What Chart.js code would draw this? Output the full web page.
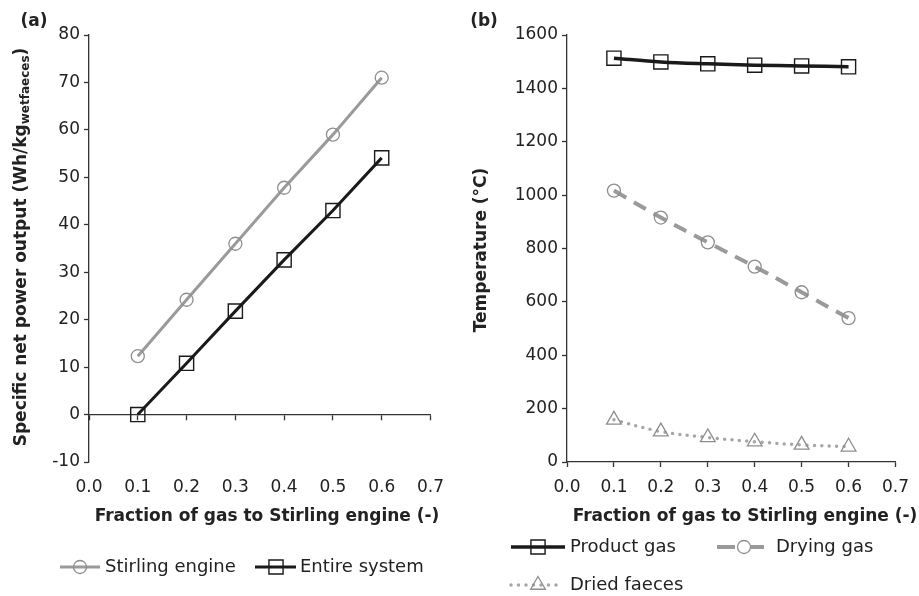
<!DOCTYPE html>
<html>
<head>
<meta charset="utf-8">
<script src="https://cdn.jsdelivr.net/npm/chart.js@4.4.1/dist/chart.umd.min.js"></script>
<style>
  html, body { margin: 0; padding: 0; background: #fff; }
  #wrap { position: relative; width: 919px; height: 596px; }
  #chartA { position: absolute; left: 0; top: 0; }
  #chartB { position: absolute; left: 459px; top: 0; }
</style>
</head>
<body>
<div id="wrap">
  <canvas id="chartA" width="459" height="596"></canvas>
  <canvas id="chartB" width="460" height="596"></canvas>
</div>
<script>
// values
const fractions = [0.1, 0.2, 0.3, 0.4, 0.5, 0.6];
const stirlingEngine = [12.3, 24.2, 36.0, 47.8, 59.0, 71.0];
const entireSystem = [0.0, 10.8, 21.8, 32.6, 43.0, 54.1];
const productGas = [1513, 1499, 1492, 1487, 1484, 1481];
const dryingGas = [1017, 916, 823, 732, 636, 539];
const driedFaeces = [158, 114, 92, 76, 64, 57];

const xTicks = [0.0, 0.1, 0.2, 0.3, 0.4, 0.5, 0.6, 0.7];
const yTicksA = [-10, 0, 10, 20, 30, 40, 50, 60, 70, 80];
const yTicksB = [0, 200, 400, 600, 800, 1000, 1200, 1400, 1600];

const AXIS = '#333333';
const TEXT = '#222222';
const GREY = '#9a9a9a';
const BLACK = '#1a1a1a';
const TICK_SIZE = 17;

Chart.defaults.font.family = "'DejaVu Sans', 'Liberation Sans', sans-serif";
Chart.defaults.color = TEXT;

const pts = (ys) => fractions.map((x, i) => ({ x: x, y: ys[i] }));
const fixTicks = (list) => (scale) => { scale.ticks = list.map(v => ({ value: v })); };

function drawMarker(ctx, style, r, x, y) {
  ctx.beginPath();
  if (style === 'rect') {
    const s = r * Math.SQRT1_2;
    ctx.rect(x - s, y - s, 2 * s, 2 * s);
  } else if (style === 'triangle') {
    for (let k = 0; k < 3; k++) {
      const a = k * 2 * Math.PI / 3;
      const px = x + Math.sin(a) * r, py = y - Math.cos(a) * r;
      if (k === 0) ctx.moveTo(px, py); else ctx.lineTo(px, py);
    }
    ctx.closePath();
  } else {
    ctx.arc(x, y, r, 0, Math.PI * 2);
  }
  ctx.stroke();
}

// panel letter, axis titles (y one with subscript) and line+marker legend
const panelDecor = {
  id: 'panelDecor',
  afterDraw(chart, args, opts) {
    const ctx = chart.ctx;
    const fam = Chart.defaults.font.family;
    ctx.save();
    ctx.fillStyle = TEXT;
    ctx.textBaseline = 'middle';

    ctx.font = 'bold 17px ' + fam;
    ctx.textAlign = 'center';
    ctx.fillText(opts.label, opts.labelX, opts.labelY);
    ctx.fillText('Fraction of gas to Stirling engine (-)', opts.xTitleX, 517);

    // y title
    ctx.save();
    ctx.translate(opts.titleX, opts.titleY);
    ctx.rotate(-Math.PI / 2);
    ctx.textAlign = 'left';
    const parts = opts.title;
    let total = 0;
    parts.forEach(p => { ctx.font = 'bold ' + p.size + 'px ' + fam; total += ctx.measureText(p.text).width; });
    let cx = -total / 2;
    parts.forEach(p => {
      ctx.font = 'bold ' + p.size + 'px ' + fam;
      ctx.fillText(p.text, cx, p.dy || 0);
      cx += ctx.measureText(p.text).width;
    });
    ctx.restore();

    // legend
    ctx.font = '18px ' + fam;
    ctx.textAlign = 'left';
    opts.legend.forEach(item => {
      const ds = chart.data.datasets[item.ds];
      ctx.save();
      ctx.strokeStyle = ds.borderColor;
      ctx.lineWidth = ds.borderWidth;
      ctx.lineCap = ds.borderCapStyle || 'butt';
      ctx.setLineDash(item.dash || ds.borderDash || []);
      ctx.beginPath();
      ctx.moveTo(item.x0, item.y);
      ctx.lineTo(item.x1, item.y);
      ctx.stroke();
      ctx.setLineDash([]);
      ctx.strokeStyle = ds.pointBorderColor;
      ctx.lineWidth = ds.pointBorderWidth;
      drawMarker(ctx, ds.pointStyle, ds.pointRadius, item.mx, item.y);
      ctx.restore();
      ctx.fillText(ds.label, item.tx, item.y);
    });
    ctx.restore();
  }
};

const yAxisBase = (list, w) => ({
  afterBuildTicks: fixTicks(list),
  afterFit: (s) => { s.width = w; },
  border: { color: AXIS, width: 1.3 },
  grid: { drawOnChartArea: false, tickLength: 5, tickColor: AXIS, tickWidth: 1.3 },
  ticks: { padding: 4, font: { size: TICK_SIZE }, callback: (v) => String(v) }
});

// (a) specific net power output
new Chart(document.getElementById('chartA'), {
  type: 'line',
  data: {
    datasets: [{
      label: 'Stirling engine',
      data: pts(stirlingEngine),
      borderColor: GREY,
      borderWidth: 3,
      tension: 0,
      pointStyle: 'circle',
      pointRadius: 6.5,
      pointBorderColor: '#8e8e8e',
      pointBorderWidth: 1.3,
      pointBackgroundColor: 'rgba(0,0,0,0)'
    }, {
      label: 'Entire system',
      data: pts(entireSystem),
      borderColor: BLACK,
      borderWidth: 3,
      tension: 0,
      pointStyle: 'rect',
      pointRadius: 10,
      pointBorderColor: BLACK,
      pointBorderWidth: 1.4,
      pointBackgroundColor: 'rgba(0,0,0,0)'
    }]
  },
  options: {
    responsive: false,
    animation: false,
    layout: { padding: { left: 0, right: 26, top: 35, bottom: 69 } },
    plugins: {
      legend: { display: false },
      tooltip: { enabled: false },
      panelDecor: {
        label: '(a)', labelX: 34, labelY: 22,
        xTitleX: 267,
        titleX: 22, titleY: 247,
        title: [
          { text: 'Specific net power output (Wh/kg', size: 17 },
          { text: 'wetfaeces', size: 12, dy: 4 },
          { text: ')', size: 17 }
        ],
        legend: [
          { ds: 0, x0: 60, x1: 100, mx: 80, tx: 105, y: 567 },
          { ds: 1, x0: 255, x1: 296, mx: 276, tx: 300, y: 567 }
        ]
      }
    },
    scales: {
      x: {
        type: 'linear', min: 0, max: 0.7, position: 'bottom',
        afterBuildTicks: fixTicks(xTicks),
        afterFit: (s) => { s.height = 65; },
        border: { display: false },
        grid: { display: false, drawTicks: false },
        ticks: { padding: 15, font: { size: TICK_SIZE }, maxRotation: 0, callback: (v) => v.toFixed(1) }
      },
      xZero: {
        type: 'linear', min: 0, max: 0.7, position: { y: 0 },
        afterBuildTicks: fixTicks(xTicks),
        border: { color: AXIS, width: 1.3 },
        grid: { drawOnChartArea: false, tickLength: 5, tickColor: AXIS, tickWidth: 1.3 },
        ticks: { display: false }
      },
      y: Object.assign({ min: -10, max: 80 }, yAxisBase(yTicksA, 89))
    }
  },
  plugins: [panelDecor]
});

// (b) temperatures
new Chart(document.getElementById('chartB'), {
  type: 'line',
  data: {
    datasets: [{
      label: 'Product gas',
      data: pts(productGas),
      borderColor: BLACK,
      borderWidth: 3.5,
      tension: 0.35,
      pointStyle: 'rect',
      pointRadius: 10,
      pointBorderColor: BLACK,
      pointBorderWidth: 1.4,
      pointBackgroundColor: 'rgba(0,0,0,0)'
    }, {
      label: 'Drying gas',
      data: pts(dryingGas),
      borderColor: GREY,
      borderWidth: 4,
      borderDash: [14, 9],
      tension: 0.35,
      pointStyle: 'circle',
      pointRadius: 6.5,
      pointBorderColor: '#8e8e8e',
      pointBorderWidth: 1.3,
      pointBackgroundColor: 'rgba(0,0,0,0)'
    }, {
      label: 'Dried faeces',
      data: pts(driedFaeces),
      borderColor: '#a6a6a6',
      borderWidth: 3.5,
      borderDash: [0, 7.5],
      borderCapStyle: 'round',
      tension: 0.35,
      pointStyle: 'triangle',
      pointRadius: 8.5,
      pointBorderColor: '#8e8e8e',
      pointBorderWidth: 1.3,
      pointBackgroundColor: 'rgba(0,0,0,0)'
    }]
  },
  options: {
    responsive: false,
    animation: false,
    layout: { padding: { left: 0, right: 15, top: 35, bottom: 69 } },
    plugins: {
      legend: { display: false },
      tooltip: { enabled: false },
      panelDecor: {
        label: '(b)', labelX: 25, labelY: 22,
        xTitleX: 286,
        titleX: 23, titleY: 250,
        title: [{ text: 'Temperature (°C)', size: 17 }],
        legend: [
          { ds: 0, x0: 52, x1: 106, mx: 79, tx: 111, y: 547 },
          { ds: 1, x0: 258, x1: 305, mx: 285, tx: 317, y: 547, dash: [18, 16] },
          { ds: 2, x0: 52, x1: 100, mx: 79, tx: 111, y: 585 }
        ]
      }
    },
    scales: {
      x: {
        type: 'linear', min: 0, max: 0.7, position: 'bottom',
        afterBuildTicks: fixTicks(xTicks),
        afterFit: (s) => { s.height = 65; },
        border: { color: AXIS, width: 1.3 },
        grid: { drawOnChartArea: false, tickLength: 5, tickColor: AXIS, tickWidth: 1.3 },
        ticks: { padding: 10, font: { size: TICK_SIZE }, maxRotation: 0, callback: (v) => v.toFixed(1) }
      },
      y: Object.assign({ min: 0, max: 1600 }, yAxisBase(yTicksB, 108))
    }
  },
  plugins: [panelDecor]
});
</script>
</body>
</html>
